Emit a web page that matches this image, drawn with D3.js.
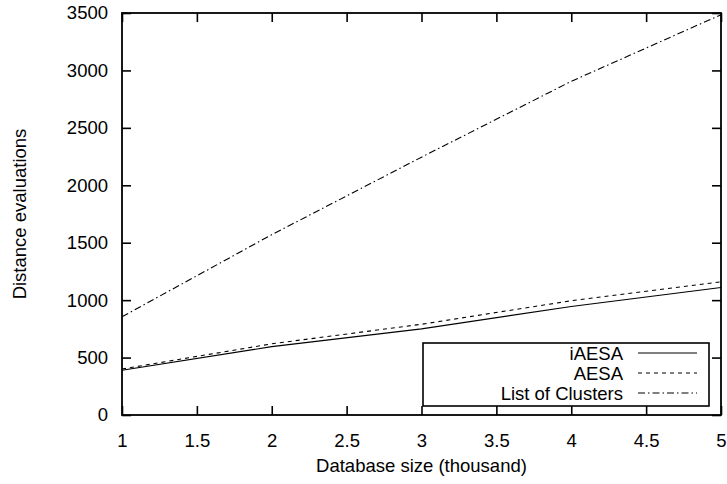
<!DOCTYPE html>
<html>
<head>
<meta charset="utf-8">
<script src="https://cdn.jsdelivr.net/npm/d3@7"></script>
<style>
body { margin:0; background:#fff; }
svg text { font-family:"Liberation Sans", Arial, sans-serif; font-size:18.5px; fill:#000; }
.domain { display:none; }
</style>
</head>
<body>
<div id="vis1"></div>
<script>
var sizes = [1, 2, 3, 4, 5];
var iaesa = [390, 595, 750, 945, 1110];
var aesa = [400, 620, 790, 995, 1160];
var clusters = [855, 1570, 2245, 2905, 3485];
var seriesNames = ["iAESA", "AESA", "List of Clusters"];
var dashes = [null, "4,4", "7,3,1.5,3"];
var xTicks = [1, 1.5, 2, 2.5, 3, 3.5, 4, 4.5, 5];
var yTicks = [0, 500, 1000, 1500, 2000, 2500, 3000, 3500];

gen_vis();

function gen_vis()
{
	var w = 727, h = 484;
	var left = 122, right = 721, top = 13, bottom = 415;

	var svg = d3.select("#vis1")
		.append("svg")
		.attr("width",w)
		.attr("height",h);

	var x = d3.scaleLinear().domain([1,5]).range([left,right]);
	var y = d3.scaleLinear().domain([0,3500]).range([bottom,top]);

	// ticks point inward on all four sides (gnuplot mirror)
	svg.append("g").attr("transform","translate(0,"+bottom+")")
		.call(d3.axisBottom(x).tickValues(xTicks).tickSize(-9).tickPadding(19).tickFormat(d3.format("")));
	svg.append("g").attr("transform","translate(0,"+top+")")
		.call(d3.axisTop(x).tickValues(xTicks).tickSize(-9).tickFormat(""));
	svg.append("g").attr("transform","translate("+left+",0)")
		.call(d3.axisLeft(y).tickValues(yTicks).tickSize(-9).tickPadding(14).tickFormat(d3.format("")));
	svg.append("g").attr("transform","translate("+right+",0)")
		.call(d3.axisRight(y).tickValues(yTicks).tickSize(-9).tickFormat(""));

	svg.selectAll(".tick line").attr("stroke","#000").attr("stroke-width",1.6);

	svg.append("rect")
		.attr("x",left).attr("y",top)
		.attr("width",right-left).attr("height",bottom-top)
		.attr("fill","none").attr("stroke","#000").attr("stroke-width",1.8);

	var line = d3.line()
		.x(function(d){ return x(d[0]); })
		.y(function(d){ return y(d[1]); });

	var all = [iaesa, aesa, clusters];
	all.forEach(function(vals, i){
		svg.append("path")
			.datum(sizes.map(function(s, j){ return [s, vals[j]]; }))
			.attr("d", line)
			.attr("fill","none")
			.attr("stroke","#000")
			.attr("stroke-width",1.1)
			.attr("stroke-dasharray", dashes[i]);
	});

	// legend
	svg.append("rect")
		.attr("x",423).attr("y",343).attr("width",286).attr("height",63)
		.attr("fill","none").attr("stroke","#000").attr("stroke-width",1.6);
	seriesNames.forEach(function(name, i){
		var by = 360 + i*20;
		svg.append("text").attr("x",623).attr("y",by)
			.attr("text-anchor","end").text(name);
		svg.append("line")
			.attr("x1",638).attr("x2",697)
			.attr("y1",by-7).attr("y2",by-7)
			.attr("stroke","#000").attr("stroke-width",1.1)
			.attr("stroke-dasharray", dashes[i]);
	});

	svg.append("text").attr("x",(left+right)/2).attr("y",472)
		.attr("text-anchor","middle").text("Database size (thousand)");
	svg.append("text")
		.attr("transform","translate(26,214) rotate(-90)")
		.attr("text-anchor","middle").text("Distance evaluations");
}
</script>
</body>
</html>
